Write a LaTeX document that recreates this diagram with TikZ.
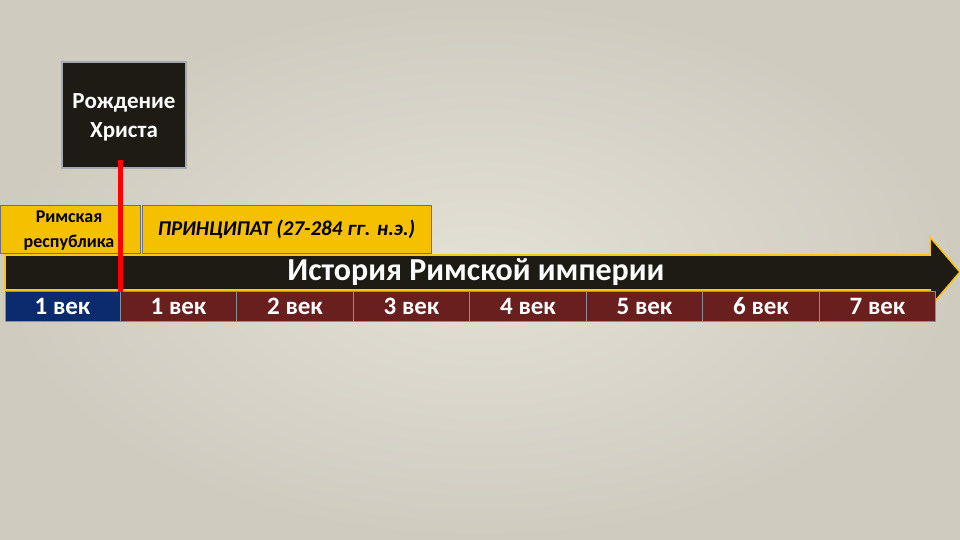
\documentclass[tikz,border=0pt]{standalone}
\usepackage{fontspec}
\setmainfont{Carlito}
\usetikzlibrary{positioning}
\definecolor{bgc}{HTML}{CFCBBF}
\definecolor{bgl}{HTML}{E3E0D6}
\definecolor{darkbox}{HTML}{1E1A14}
\definecolor{goldc}{HTML}{F5C000}
\definecolor{bluec}{HTML}{0B2B6E}
\definecolor{redc}{HTML}{6A1F1F}
\definecolor{edgec}{HTML}{6A7080}
\tikzset{
  x=1pt,y=-1pt,
  period/.style={draw=edgec, line width=1pt, fill=goldc, text=black, align=center, inner sep=0pt},
  cent/.style={draw=edgec!80, line width=1pt, fill=redc, text=white, font=\fontsize{25}{27}\selectfont\bfseries, inner sep=0pt, minimum height=30pt, minimum width=116.5pt}
}
\begin{document}
\begin{tikzpicture}
\useasboundingbox (0,0) rectangle (960,540);
\shade[inner color=bgl, outer color=bgc] (0,0) rectangle (960,540);
% birth box
\node[draw=edgec!60!white, line width=1.2pt, fill=darkbox,
  minimum width=124pt, minimum height=106pt, inner sep=0pt] (birth) at (124,115) {};
\node[text=white, align=center, inner sep=0pt,
  font=\fontsize{23}{29}\selectfont\bfseries] (birthtext) at (124,117) {Рождение\\Христа};
% periods
\node[period, minimum width=140pt, minimum height=48pt] (rep) at (70,229) {};
\node[align=center, inner sep=0pt, font=\fontsize{18}{25}\selectfont\bfseries] (reptext) at (69,231) {Римская\\республика};
\node[period, minimum width=289pt, minimum height=48pt, font=\fontsize{21}{23}\selectfont\bfseries\itshape] (princ) at (286.5,229) {ПРИНЦИПАТ (27-284 гг. н.э.)};
% arrow
\draw[draw=goldc!90!white, line width=1.6pt, fill=darkbox]
  (5,255) -- (930,255) -- (930,237) -- (960,272) -- (930,307) -- (930,290) -- (5,290) -- cycle;
\node[text=white, font=\fontsize{32}{34}\selectfont\bfseries, inner sep=0pt] (hist) at (476,272) {История Римской империи};
% centuries
\node[cent, fill=bluec, minimum width=115pt] (c0) at (62.5,306) {1 век};
\node[cent] (c1) at (178.5,306) {1 век};
\node[cent] (c2) at (295,306) {2 век};
\node[cent] (c3) at (411.5,306) {3 век};
\node[cent] (c4) at (528,306) {4 век};
\node[cent] (c5) at (644.5,306) {5 век};
\node[cent] (c6) at (761,306) {6 век};
\node[cent] (c7) at (877.5,306) {7 век};
% red line
\coordinate (rtop) at (120,160);
\coordinate (rbot) at (120,292);
\draw[red, line width=5pt] (rtop) -- (rbot);
\end{tikzpicture}
\end{document}
